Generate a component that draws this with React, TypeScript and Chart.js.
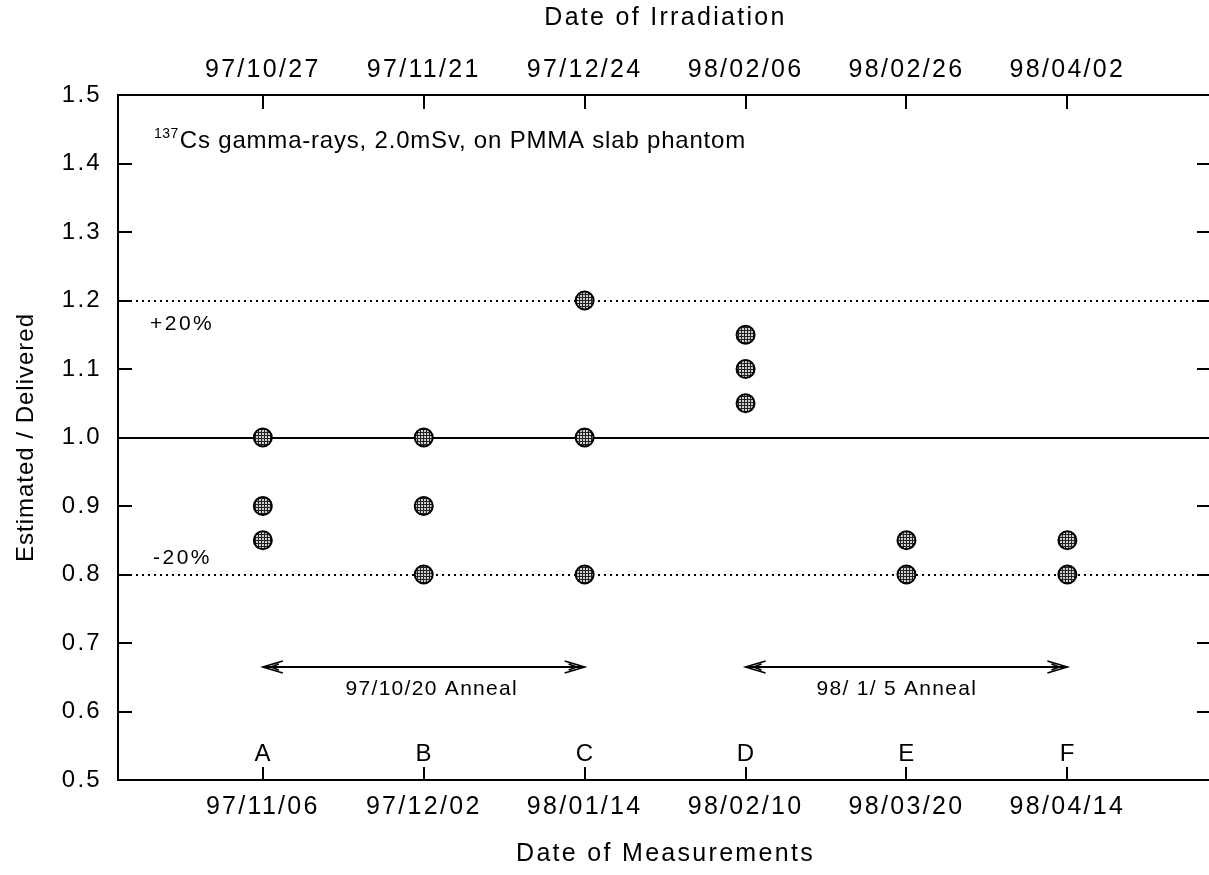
import React, { useEffect, useRef } from 'react';
import { Chart, registerables } from 'chart.js';

Chart.register(...registerables);

const categories = ['A', 'B', 'C', 'D', 'E', 'F'];
const measurementDates = ['97/11/06', '97/12/02', '98/01/14', '98/02/10', '98/03/20', '98/04/14'];
const irradiationDates = ['97/10/27', '97/11/21', '97/12/24', '98/02/06', '98/02/26', '98/04/02'];
const ratioA = [1.0, 0.9, 0.85];
const ratioB = [1.0, 0.9, 0.8];
const ratioC = [1.2, 1.0, 0.8];
const ratioD = [1.15, 1.1, 1.05];
const ratioE = [0.85, 0.8];
const ratioF = [0.85, 0.8];
const yTickValues = [0.5, 0.6, 0.7, 0.8, 0.9, 1.0, 1.1, 1.2, 1.3, 1.4, 1.5];
const unityLine = 1.0;
const toleranceLines = [1.2, 0.8];
const toleranceLabels = ['+20%', '-20%'];
const annealFrom = [1, 4];
const annealTo = [3, 6];
const annealLabels = ['97/10/20 Anneal', '98/ 1/ 5 Anneal'];
const annealLabelAt = [2.05, 4.94];
const annealLevel = 0.665;
const noteSup = '137';
const noteText = 'Cs gamma-rays, 2.0mSv, on PMMA slab phantom';
const xTitleTop = 'Date of Irradiation';
const xTitleBottom = 'Date of Measurements';
const yTitle = 'Estimated / Delivered';

const FONT = "'Liberation Sans', Arial, Helvetica, sans-serif";

const setSpacing = (ctx: any, px: number) => {
  try { ctx.letterSpacing = px + 'px'; } catch (e) { /* ignore */ }
};

const decorPlugin = {
  id: 'decor',
  beforeDraw(chart: any) {
    setSpacing(chart.ctx, 2.3);
  },
  beforeDatasetsDraw(chart: any) {
    const { ctx, chartArea, scales } = chart;
    const { left, right, top, bottom } = chartArea;
    const y = scales.y;
    const x = scales.x;
    ctx.save();
    ctx.strokeStyle = '#000';
    ctx.lineWidth = 2;
    ctx.setLineDash([2, 4]);
    toleranceLines.forEach((v) => {
      const py = Math.round(y.getPixelForValue(v));
      ctx.beginPath();
      ctx.moveTo(left, py);
      ctx.lineTo(right, py);
      ctx.stroke();
    });
    ctx.setLineDash([]);
    const uy = Math.round(y.getPixelForValue(unityLine));
    ctx.beginPath();
    ctx.moveTo(left, uy);
    ctx.lineTo(right, uy);
    ctx.stroke();
    // frame
    ctx.beginPath();
    ctx.moveTo(right, top);
    ctx.lineTo(left, top);
    ctx.lineTo(left, bottom);
    ctx.lineTo(right, bottom);
    ctx.stroke();
    // y ticks (inward both sides)
    yTickValues.forEach((v) => {
      const py = Math.round(y.getPixelForValue(v));
      ctx.beginPath();
      ctx.moveTo(left, py);
      ctx.lineTo(left + 14, py);
      ctx.moveTo(right - 12, py);
      ctx.lineTo(right, py);
      ctx.stroke();
    });
    // x ticks (inward top and bottom)
    categories.forEach((_, i) => {
      const px = Math.round(x.getPixelForValue(i + 1));
      ctx.beginPath();
      ctx.moveTo(px, top);
      ctx.lineTo(px, top + 14);
      ctx.moveTo(px, bottom - 13);
      ctx.lineTo(px, bottom);
      ctx.stroke();
    });
    ctx.restore();
  },
  afterDraw(chart: any) {
    const { ctx, chartArea, scales } = chart;
    const { left, right, top, bottom } = chartArea;
    const y = scales.y;
    const x = scales.x;
    ctx.save();
    ctx.fillStyle = '#000';
    ctx.strokeStyle = '#000';

    // category letters
    ctx.font = `24px ${FONT}`;
    setSpacing(ctx, 0.5);
    ctx.textAlign = 'center';
    ctx.textBaseline = 'alphabetic';
    categories.forEach((c, i) => {
      ctx.fillText(c, x.getPixelForValue(i + 1), bottom - 19);
    });

    // tolerance labels
    ctx.font = `21px ${FONT}`;
    setSpacing(ctx, 2.5);
    ctx.textAlign = 'left';
    ctx.textBaseline = 'middle';
    ctx.fillText(toleranceLabels[0], left + 32, y.getPixelForValue(toleranceLines[0]) + 24);
    ctx.fillText(toleranceLabels[1], left + 35, y.getPixelForValue(toleranceLines[1]) - 16);

    // note with superscript
    ctx.textBaseline = 'alphabetic';
    ctx.font = `14px ${FONT}`;
    setSpacing(ctx, 0.5);
    const supX = left + 36;
    ctx.fillText(noteSup, supX, top + 43);
    const supW = ctx.measureText(noteSup).width;
    ctx.font = `24px ${FONT}`;
    setSpacing(ctx, 0.8);
    ctx.fillText(noteText, supX + supW + 1, top + 53);

    // anneal arrows
    annealLabels.forEach((label, i) => {
      const x1 = x.getPixelForValue(annealFrom[i]);
      const x2 = x.getPixelForValue(annealTo[i]);
      const py = Math.round(y.getPixelForValue(annealLevel));
      ctx.lineWidth = 2;
      ctx.beginPath();
      ctx.moveTo(x1, py);
      ctx.lineTo(x2, py);
      ctx.stroke();
      ctx.lineWidth = 1.6;
      ctx.beginPath();
      ctx.moveTo(x1 + 20, py - 6);
      ctx.lineTo(x1, py);
      ctx.lineTo(x1 + 20, py + 6);
      ctx.moveTo(x1 + 16, py - 3);
      ctx.lineTo(x1 + 8, py);
      ctx.lineTo(x1 + 16, py + 3);
      ctx.moveTo(x2 - 20, py - 6);
      ctx.lineTo(x2, py);
      ctx.lineTo(x2 - 20, py + 6);
      ctx.moveTo(x2 - 16, py - 3);
      ctx.lineTo(x2 - 8, py);
      ctx.lineTo(x2 - 16, py + 3);
      ctx.stroke();
      ctx.font = `21px ${FONT}`;
      setSpacing(ctx, 1.3);
      ctx.textAlign = 'center';
      ctx.textBaseline = 'middle';
      ctx.fillText(label, x.getPixelForValue(annealLabelAt[i]), py + 22);
    });

    // axis titles
    ctx.font = `25px ${FONT}`;
    setSpacing(ctx, 2.3);
    ctx.textAlign = 'center';
    ctx.textBaseline = 'middle';
    const cx = (left + right) / 2 + 2;
    ctx.fillText(xTitleTop, cx, 18);
    ctx.fillText(xTitleBottom, cx, 854);

    ctx.font = `24px ${FONT}`;
    setSpacing(ctx, 1);
    ctx.translate(26, (top + bottom) / 2);
    ctx.rotate(-Math.PI / 2);
    ctx.fillText(yTitle, 0, 0);
    ctx.restore();
    setSpacing(ctx, 2.3);
  },
};

export default function App() {
  const canvasRef = useRef<HTMLCanvasElement | null>(null);

  useEffect(() => {
    const canvas = canvasRef.current;
    if (!canvas) return;
    const ctx = canvas.getContext('2d');
    if (!ctx) return;

    const pc = document.createElement('canvas');
    pc.width = 3;
    pc.height = 3;
    const g = pc.getContext('2d')!;
    g.fillStyle = '#cfcfcf';
    g.fillRect(0, 0, 3, 3);
    g.fillStyle = '#222222';
    g.fillRect(0, 0, 3, 1);
    g.fillRect(0, 0, 1, 3);
    const pattern = ctx.createPattern(pc, 'repeat');

    const series = [ratioA, ratioB, ratioC, ratioD, ratioE, ratioF];
    const points = series.flatMap((vals, i) => vals.map((v) => ({ x: i + 1, y: v })));

    const tickFont = { family: FONT, size: 25 };

    const chart = new Chart(ctx, {
      type: 'scatter',
      data: {
        datasets: [
          {
            data: points,
            xAxisID: 'x',
            yAxisID: 'y',
            pointRadius: 9,
            pointHoverRadius: 9,
            pointBackgroundColor: pattern as any,
            pointBorderColor: '#000',
            pointBorderWidth: 2,
            showLine: false,
            clip: false as any,
          },
        ],
      },
      options: {
        responsive: false,
        animation: false,
        devicePixelRatio: 1,
        layout: { padding: 0, autoPadding: false },
        plugins: {
          legend: { display: false },
          tooltip: { enabled: false },
          title: { display: false },
        },
        scales: {
          x: {
            type: 'linear',
            position: 'bottom',
            min: 0.1,
            max: 6.88,
            grid: { display: false, drawTicks: false },
            border: { display: false },
            afterBuildTicks: (s: any) => {
              s.ticks = categories.map((_, i) => ({ value: i + 1 }));
            },
            afterFit: (s: any) => {
              s.height = 95;
            },
            ticks: {
              padding: 12,
              font: tickFont,
              color: '#000',
              maxRotation: 0,
              autoSkip: false,
              callback: (v: any) => measurementDates[Math.round(Number(v)) - 1] ?? '',
            },
          },
          x2: {
            type: 'linear',
            position: 'top',
            min: 0.1,
            max: 6.88,
            grid: { display: false, drawTicks: false },
            border: { display: false },
            afterBuildTicks: (s: any) => {
              s.ticks = categories.map((_, i) => ({ value: i + 1 }));
            },
            afterFit: (s: any) => {
              s.height = 95;
            },
            ticks: {
              padding: 10,
              font: tickFont,
              color: '#000',
              maxRotation: 0,
              autoSkip: false,
              callback: (v: any) => irradiationDates[Math.round(Number(v)) - 1] ?? '',
            },
          },
          y: {
            type: 'linear',
            position: 'left',
            min: 0.5,
            max: 1.5,
            grid: { display: false, drawTicks: false },
            border: { display: false },
            afterBuildTicks: (s: any) => {
              s.ticks = yTickValues.map((v) => ({ value: v }));
            },
            afterFit: (s: any) => {
              s.width = 118;
            },
            ticks: {
              padding: 16,
              font: { family: FONT, size: 24 },
              color: '#000',
              autoSkip: false,
              callback: (v: any) => Number(v).toFixed(1),
            },
          },
        },
      } as any,
      plugins: [decorPlugin as any],
    });

    return () => {
      chart.destroy();
    };
  }, []);

  return (
    <div style={{ position: 'absolute', left: 0, top: 0, width: 1209, height: 875, background: '#fff' }}>
      <canvas ref={canvasRef} width={1209} height={875} style={{ display: 'block' }} />
    </div>
  );
}
